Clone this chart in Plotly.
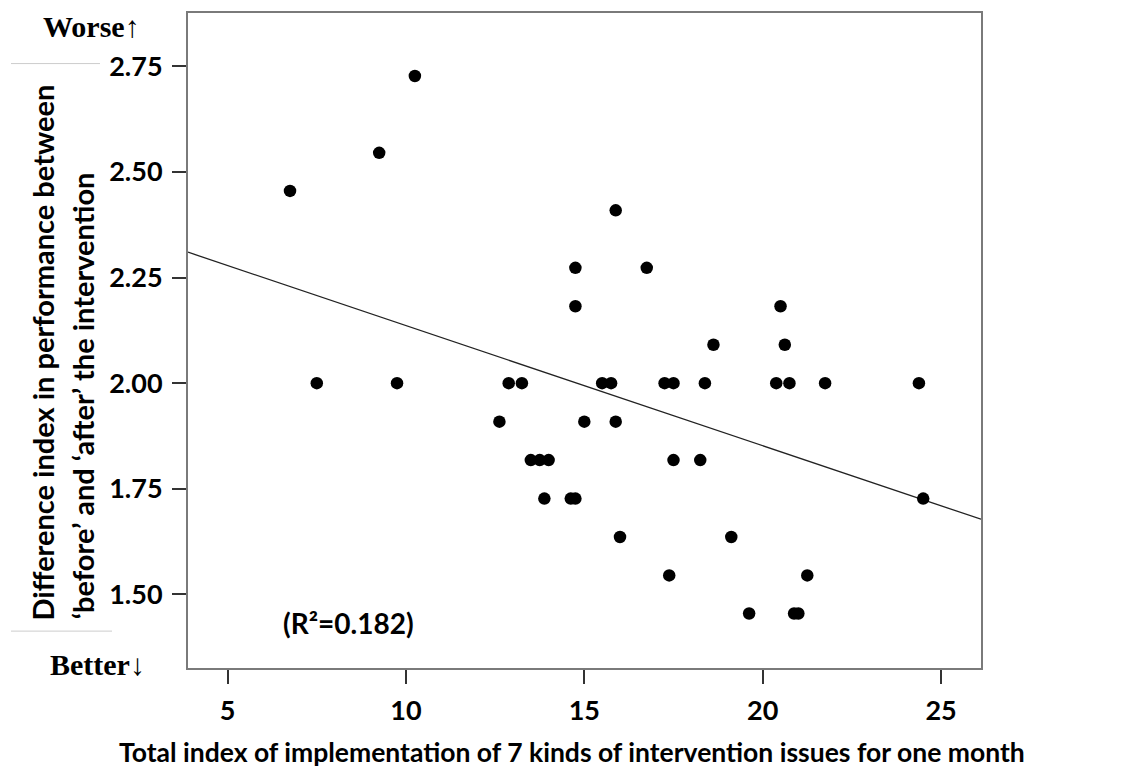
import plotly.graph_objects as go

# ---- data ----
implementation_index = [6.75, 7.50, 9.25, 9.75, 10.25, 12.62, 12.88, 13.25, 13.50, 13.75,
                        14.00, 13.88, 14.62, 14.75, 14.75, 14.75, 15.00, 15.50, 15.75, 15.88,
                        15.88, 16.00, 16.75, 17.25, 17.50, 17.50, 17.38, 18.25, 18.38, 18.62,
                        19.12, 19.62, 20.38, 20.50, 20.62, 20.75, 20.88, 21.00, 21.25, 21.75,
                        24.38, 24.50]
difference_index = [2.455, 2.000, 2.545, 2.000, 2.727, 1.909, 2.000, 2.000, 1.818, 1.818,
                    1.818, 1.727, 1.727, 1.727, 2.273, 2.182, 1.909, 2.000, 2.000, 2.409,
                    1.909, 1.636, 2.273, 2.000, 2.000, 1.818, 1.545, 1.818, 2.000, 2.091,
                    1.636, 1.455, 2.000, 2.182, 2.091, 2.000, 1.455, 1.455, 1.545, 2.000,
                    2.000, 1.727]
fit_x = [3.89, 26.12]
fit_y = [2.310, 1.678]
x_ticks = [5, 10, 15, 20, 25]
y_ticks = [1.50, 1.75, 2.00, 2.25, 2.50, 2.75]
y_tick_labels = ["1.50", "1.75", "2.00", "2.25", "2.50", "2.75"]
r2_text = "(R²=0.182)"

SANS = "Lato"
SERIF = "Liberation Serif"

fig = go.Figure()
fig.add_trace(go.Scatter(
    x=fit_x, y=fit_y, mode="lines",
    line=dict(color="#222222", width=1.3), hoverinfo="skip", showlegend=False))
fig.add_trace(go.Scatter(
    x=implementation_index, y=difference_index, mode="markers",
    marker=dict(color="black", size=12.5, symbol="circle"), showlegend=False))

axis_common = dict(
    showgrid=False, zeroline=False, showline=True, linecolor="#7a7a7a", linewidth=2,
    mirror=True, ticks="outside", ticklen=14, tickwidth=1.5, tickcolor="#333333",
    tickfont=dict(family=SANS, size=27, color="black", weight="bold"),
)
fig.update_xaxes(range=[3.89, 26.12], tickmode="array", tickvals=x_ticks,
                 ticklabelstandoff=4, **axis_common)
fig.update_yaxes(range=[1.326, 2.876], tickmode="array", tickvals=y_ticks,
                 ticktext=y_tick_labels, ticklabelstandoff=4, **axis_common)

annotations = [
    dict(text="Difference index in performance between", x=-0.1829, y=0.4817,
         textangle=-90, font=dict(family=SANS, size=29, color="black", weight="bold")),
    dict(text="‘before’ and ‘after’ the intervention", x=-0.1337, y=0.4163,
         textangle=-90, font=dict(family=SANS, size=29, color="black", weight="bold")),
    dict(text="Total index of implementation of 7 kinds of intervention issues for one month",
         x=0.4843, y=-0.1279, font=dict(family=SANS, size=26.5, color="black", weight="bold")),
    dict(text=r2_text, x=0.2024, y=0.0685,
         font=dict(family=SANS, size=28, color="black", weight="bold")),
    dict(text="Worse↑", x=-0.1223, y=0.9787,
         font=dict(family=SERIF, size=30, color="black", weight="bold")),
    dict(text="Better↓", x=-0.1135, y=0.0046,
         font=dict(family=SERIF, size=30, color="black", weight="bold")),
]
for a in annotations:
    a.update(xref="paper", yref="paper", showarrow=False, xanchor="center", yanchor="middle")

shapes = [
    dict(type="line", xref="paper", yref="paper", x0=-0.2232, x1=-0.1110, y0=0.9228, y1=0.9228,
         line=dict(color="#cccccc", width=1)),
    dict(type="line", xref="paper", yref="paper", x0=-0.2232, x1=-0.0958, y0=0.0563, y1=0.0563,
         line=dict(color="#cccccc", width=1)),
]

fig.update_layout(
    width=1131, height=769,
    margin=dict(l=188, r=150, t=11, b=101),
    paper_bgcolor="white", plot_bgcolor="white",
    annotations=annotations, shapes=shapes,
    font=dict(family=SANS),
)

fig.write_html("out.html")
